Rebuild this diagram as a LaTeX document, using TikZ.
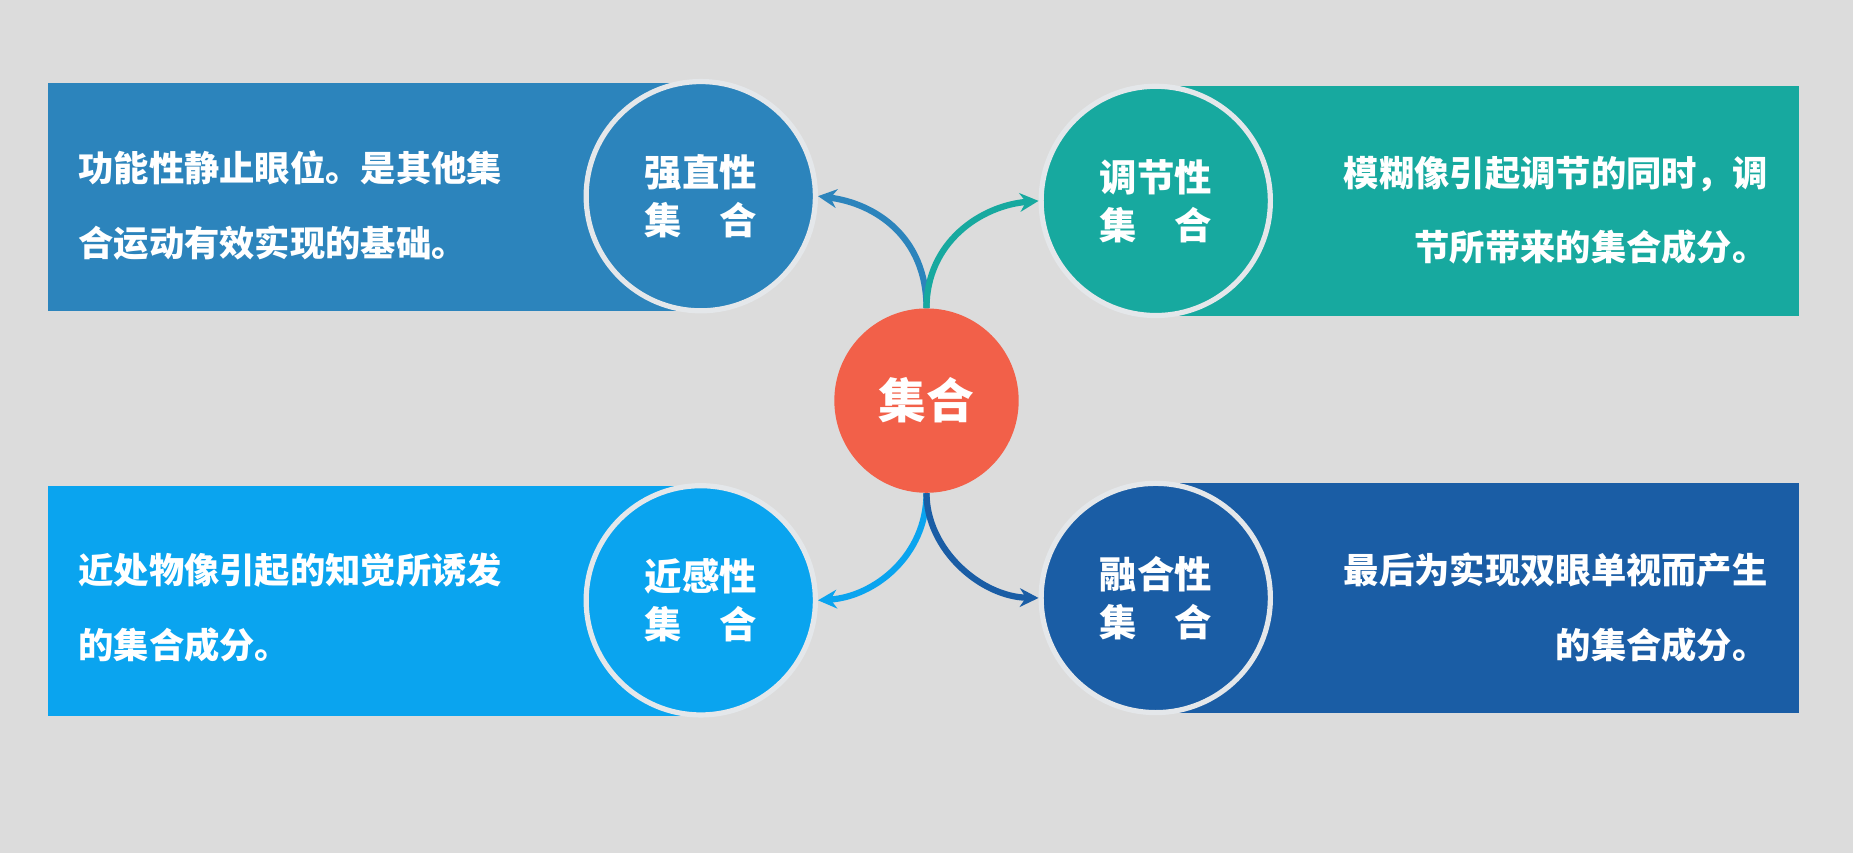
\documentclass[tikz,border=0pt]{standalone}
\usepackage{fontspec}
\newfontfamily\cjk{Noto Sans CJK SC}
\usetikzlibrary{arrows.meta}
\definecolor{bg}{HTML}{DCDCDC}
\definecolor{cA}{HTML}{2C84BC}
\definecolor{cB}{HTML}{17A99F}
\definecolor{cC}{HTML}{0AA4EF}
\definecolor{cD}{HTML}{1A5DA5}
\definecolor{cR}{HTML}{F26049}
\definecolor{ring}{HTML}{E4E7EA}
\tikzset{
 panel/.style={draw=none},
 bub/.style={circle, minimum size=194*0.02cm, draw=ring, line width=2.5pt, inner sep=0pt, text=white, font=\cjk\bfseries\fontsize{18}{23}\selectfont, align=center},
 body/.style={text=white, font=\cjk\bfseries\fontsize{17}{36}\selectfont, inner sep=0pt},
 arr/.style={line width=3pt, -{Stealth[length=9pt,width=9pt]}}
}
\begin{document}
\begin{tikzpicture}[x=0.02cm,y=-0.02cm]
\fill[bg] (0,0) rectangle (1568,722);
\useasboundingbox (0,0) rectangle (1568,722);
\fill[cA] (41,70) rectangle (593,263);
\fill[cB] (978,73) rectangle (1522,267);
\fill[cC] (41,411) rectangle (593,606);
\fill[cD] (978,409) rectangle (1522,603);
\node[bub, fill=cA] (a) at (593,166) {强直性\\集\quad 合};
\node[bub, fill=cB] (b) at (978,170) {调节性\\集\quad 合};
\node[bub, fill=cC] (c) at (593,508) {近感性\\集\quad 合};
\node[bub, fill=cD] (d) at (978,506) {融合性\\集\quad 合};
\node[circle, fill=cR, minimum size=156*0.02cm, text=white, font=\cjk\bfseries\fontsize{23}{28}\selectfont] (m) at (784,339) {集合};
\node[body, anchor=west, align=left] (ta) at (66,174) {功能性静止眼位。是其他集\\合运动有效实现的基础。};
\node[body, anchor=east, align=right] (tb) at (1496,178) {模糊像引起调节的同时，调\\节所带来的集合成分。};
\node[body, anchor=west, align=left] (tc) at (66,514) {近处物像引起的知觉所诱发\\的集合成分。};
\node[body, anchor=east, align=right] (td) at (1496,514) {最后为实现双眼单视而产生\\的集合成分。};
\draw[arr, cA] (m.north) .. controls (784,200) and (740,172) .. (a.east);
\draw[arr, cB] (m.north) .. controls (784,205) and (830,174) .. (b.west);
\draw[arr, cC] (m.south) .. controls (784,470) and (740,505) .. (c.east);
\draw[arr, cD] (m.south) .. controls (784,465) and (830,505) .. (d.west);
\end{tikzpicture}
\end{document}
